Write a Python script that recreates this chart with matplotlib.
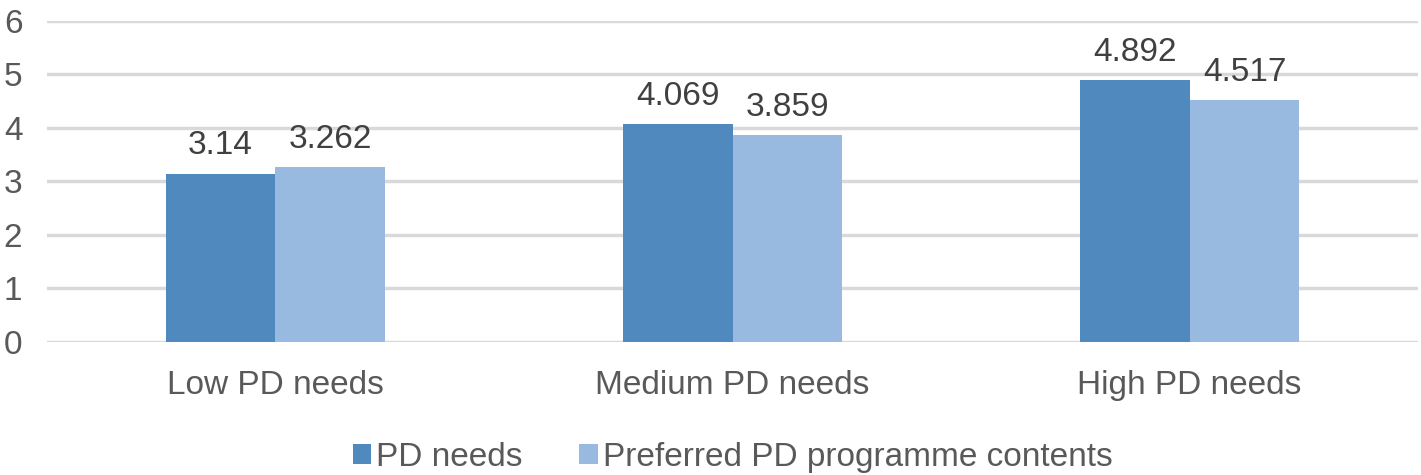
import numpy as np
import matplotlib.pyplot as plt

plt.rcParams['font.family'] = ['Liberation Sans', 'DejaVu Sans']

categories = ['Low PD needs', 'Medium PD needs', 'High PD needs']
pd_needs = [3.14, 4.069, 4.892]
preferred = [3.262, 3.859, 4.517]
labels_needs = ['3.14', '4.069', '4.892']
labels_pref = ['3.262', '3.859', '4.517']

x = np.arange(len(categories))
w = 0.24

fig = plt.figure(figsize=(14.21, 4.75), dpi=100)
ax = fig.add_axes([0.033, 0.28, 0.965, 0.676])

b1 = ax.bar(x - w/2, pd_needs, w, color='#4F89BD', label='PD needs', zorder=3)
b2 = ax.bar(x + w/2, preferred, w, color='#98B9E0', label='Preferred PD programme contents', zorder=3)

for bars, labs in [(b1, labels_needs), (b2, labels_pref)]:
    for b, t in zip(bars, labs):
        ax.annotate(t, (b.get_x() + b.get_width()/2, b.get_height()),
                    xytext=(0, 9), textcoords='offset points',
                    ha='center', va='bottom', fontsize=24, color='#404040')

ax.set_xlim(-0.5, 2.5)
ax.set_ylim(0, 6)
ax.set_yticks(range(7))
ax.set_xticks(x)
ax.set_xticklabels(categories)
ax.yaxis.grid(True, color='#d9d9d9', linewidth=2.5, zorder=0)
for s in ax.spines.values():
    s.set_visible(False)
ax.tick_params(axis='both', length=0, labelsize=24, labelcolor='#595959')
ax.tick_params(axis='x', pad=20)
ax.tick_params(axis='y', pad=31)
for t in ax.get_yticklabels():
    t.set_horizontalalignment('left')

ax.legend(loc='center', bbox_to_anchor=(0.5, -0.36), ncol=2, frameon=False,
          fontsize=24, labelcolor='#595959', handlelength=0.55, handleheight=0.55,
          handletextpad=0.15, columnspacing=1.7)

fig.savefig('out.png', dpi=100)
